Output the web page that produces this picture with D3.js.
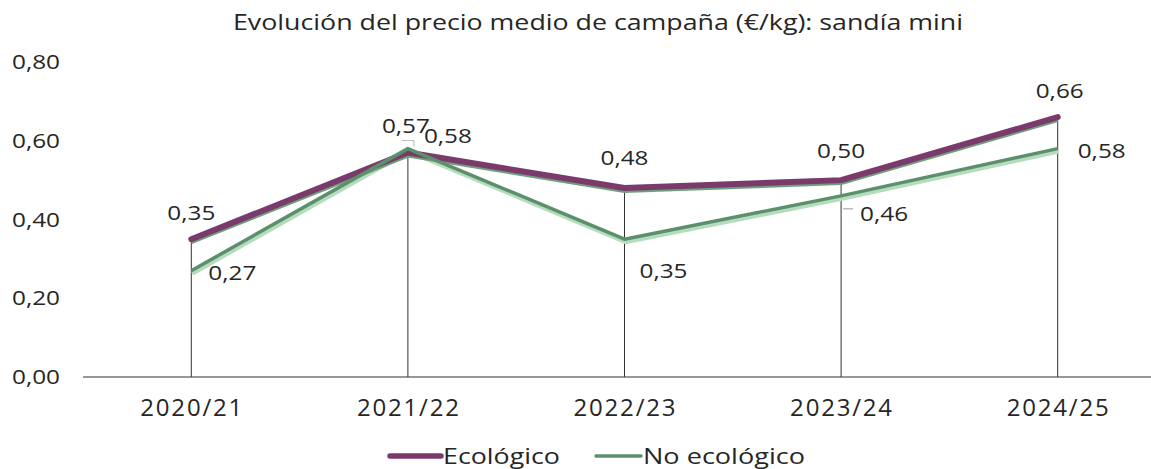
<!DOCTYPE html>
<html><head><meta charset="utf-8">
<script src="https://cdn.jsdelivr.net/npm/d3@7"></script>
<style>body{margin:0;background:#fff}svg{display:block}text{font-family:"Open Sans","Lato",sans-serif;fill:#262626}</style>
</head><body>
<script>
const categories = ["2020/21","2021/22","2022/23","2023/24","2024/25"];
const ecologico = [0.35,0.57,0.48,0.50,0.66];
const noEcologico = [0.27,0.58,0.35,0.46,0.58];
const yTicks = [0,0.2,0.4,0.6,0.8];
const seriesNames = ["Ecológico","No ecológico"];
const title = "Evolución del precio medio de campaña (€/kg): sandía mini";

const W=1151,H=469;
const svg=d3.select("body").append("svg").attr("width",W).attr("height",H);
const x=d3.scaleBand().domain(categories).range([83,1166]);
const y=d3.scaleLinear().domain([0,0.8]).range([377,62]);
const fmt=v=>d3.format(".2f")(v).replace(".",",");
const cx=c=>x(c)+x.bandwidth()/2;

svg.append("text").attr("x",233).attr("y",30)
  .style("font-size","21px").attr("textLength",730).attr("lengthAdjust","spacingAndGlyphs").text(title);

// y axis labels
svg.append("g").selectAll("text").data(yTicks).join("text")
  .attr("x",12).attr("y",d=>y(d)+7).style("font-size","20px")
  .attr("textLength",48).attr("lengthAdjust","spacingAndGlyphs").text(fmt);

// x axis
const xa=svg.append("g").attr("transform","translate(0,377)").call(d3.axisBottom(x).tickSize(0).tickPadding(0));
xa.select(".domain").attr("stroke","#333").attr("stroke-width",1.2).attr("d","M83,0H1151");
xa.selectAll("text").attr("dy",null).attr("y",39).style("font-size","24px").style("font-family","'Open Sans', sans-serif")
  .attr("fill","#262626").attr("textLength",102).attr("lengthAdjust","spacing");

// drop lines
svg.append("g").selectAll("line").data(categories).join("line")
  .attr("x1",d=>cx(d)).attr("x2",d=>cx(d))
  .attr("y1",(d,i)=>y(Math.max(ecologico[i],noEcologico[i])))
  .attr("y2",y(0)).attr("stroke","#333").attr("stroke-width",1);

const line=d3.line().x((d,i)=>cx(categories[i])).y(d=>y(d));
// shadows
svg.append("path").datum(noEcologico).attr("d",line).attr("fill","none")
  .attr("stroke","#b5dcbc").attr("stroke-width",4).attr("transform","translate(1,3)").attr("stroke-linejoin","round");
svg.append("path").datum(ecologico).attr("d",line).attr("fill","none")
  .attr("stroke","#6f9f7c").attr("stroke-width",4).attr("transform","translate(0,3)").attr("stroke-linejoin","round");
svg.append("path").datum(ecologico).attr("d",line).attr("fill","none")
  .attr("stroke","#7a3b6c").attr("stroke-width",6).attr("stroke-linejoin","round").attr("stroke-linecap","round");
svg.append("path").datum(noEcologico).attr("d",line).attr("fill","none")
  .attr("stroke","#5c8f6b").attr("stroke-width",3.5).attr("stroke-linejoin","round");

// labels (offsets relative to point: [dx, baseline dy])
const ecoOff=[[0,-19],[-2,-20],[0,-23],[0,-22],[2,-19]];
const noOff=[[41,9],[40,-6],[39,39],[43,25],[44,9]];
svg.append("g").selectAll("text").data(ecologico).join("text")
  .attr("x",(d,i)=>cx(categories[i])+ecoOff[i][0]).attr("y",(d,i)=>y(d)+ecoOff[i][1])
  .attr("text-anchor","middle").style("font-size","20px").attr("textLength",48).attr("lengthAdjust","spacingAndGlyphs").text(fmt);
svg.append("g").selectAll("text").data(noEcologico).join("text")
  .attr("x",(d,i)=>cx(categories[i])+noOff[i][0]).attr("y",(d,i)=>y(d)+noOff[i][1])
  .attr("text-anchor","middle").style("font-size","20px").attr("textLength",48).attr("lengthAdjust","spacingAndGlyphs").text(fmt);
// leader lines
svg.append("line").attr("x1",cx(categories[3])+2).attr("x2",cx(categories[3])+12)
  .attr("y1",y(noEcologico[3])+13).attr("y2",y(noEcologico[3])+13).attr("stroke","#999");
svg.append("path").attr("d",`M${cx(categories[1])-6},${y(ecologico[1])-12}H${cx(categories[1])+6}V${y(noEcologico[1])-2}`)
  .attr("stroke","#bbb").attr("fill","none");

// legend
const lg=svg.append("g");
const items=[{n:seriesNames[0],c:"#7a3b6c",w:5.5,x0:390,x1:441,tx:443,tl:117},{n:seriesNames[1],c:"#5c8f6b",w:3.5,x0:596,x1:641,tx:643,tl:162}];
items.forEach(it=>{
  lg.append("line").attr("x1",it.x0).attr("x2",it.x1).attr("y1",456).attr("y2",456)
    .attr("stroke",it.c).attr("stroke-width",it.w).attr("stroke-linecap","round");
  lg.append("text").attr("x",it.tx).attr("y",464).style("font-size","22px")
    .attr("textLength",it.tl).attr("lengthAdjust","spacingAndGlyphs").text(it.n);
});
</script>
</body></html>
